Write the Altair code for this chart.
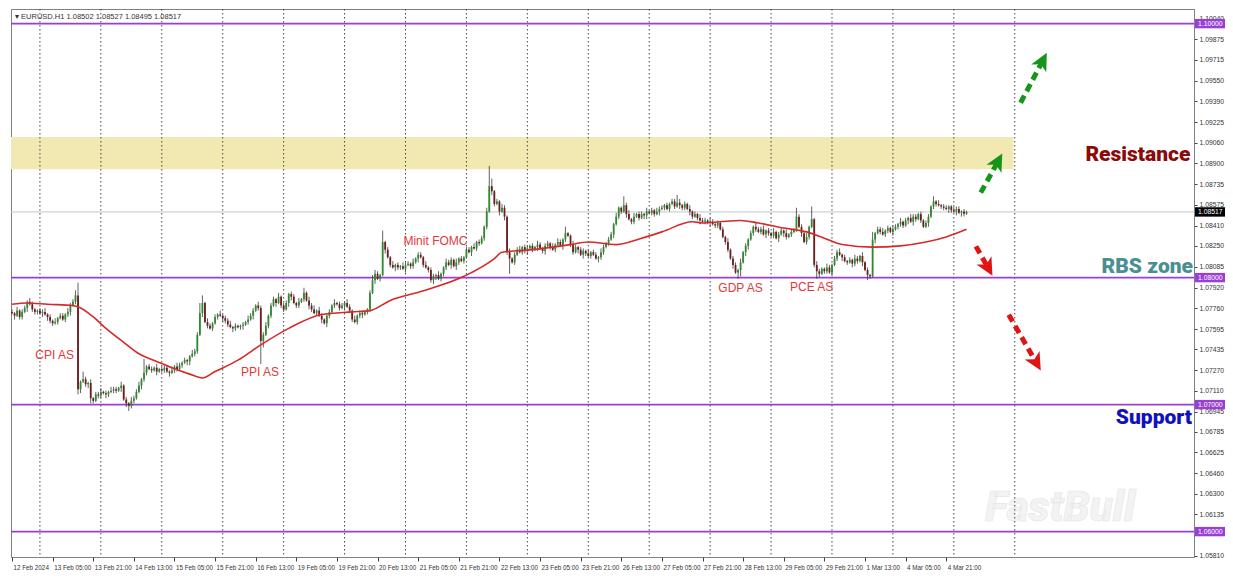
import json
import altair as alt
import pandas as pd

W, H = 1183, 548
X_DOM = [-0.4, 465.6]
Y_DOM = [1.0580, 1.10115]
BASE, PIP = 1.08, 0.0001

# hourly closes, in pips relative to 1.08000 (bar 0 = 12 Feb 13:00)
closes = [
    -28, -30, -26, -31, -27, -24, -19, -21, -25, -27, -26, -28, -27, -29, -31, -34, -36, -35, -32, -30, -33, -29, -27, -22, -19, -14,
    -88,
    -82, -80, -84, -83, -95, -97,
    -92, -93, -90, -91, -92, -90, -89, -88, -89, -87, -85,
    -96, -99, -101, -97, -95,
    -90, -85, -80, -75, -70,
    -72, -73, -71, -74, -72,
    -73, -71, -74, -75, -73, -70, -72, -69,
    -67, -65, -66, -62, -60, -58,
    -45, -28, -20,
    -35, -38, -40, -36, -31, -29, -30, -32,
    -34, -37, -39, -40, -38,
    -39, -38, -37, -35, -33, -30, -26,
    -22, -24, -50, -45, -38,
    -30, -22, -17, -20, -15, -22, -25, -20,
    -13, -15, -20, -22, -19, -17, -12,
    -18, -22, -25, -28, -26, -30, -33, -36, -30, -27, -22, -20,
    -21, -24, -22, -20, -23, -26, -33, -35,
    -30, -28, -29, -27, -25,
    -12, -2, 3, -1, 2, 28,
    22, 16, 10, 8,
    10, 8, 9, 7, 10, 11, 9,
    12, 15, 18, 16, 10, 8, 6, -2, 1, 2, -1, 3,
    8, 12, 10, 14, 9, 12, 15, 13, 16,
    22, 20, 24, 23, 28, 27, 31, 40, 52,
    72, 68, 58, 60, 52, 55, 48, 20, 15, 12,
    18, 22, 20, 24, 21,
    23, 25, 22, 24, 26, 23, 21, 25, 27, 24, 22, 26, 28, 25,
    30, 35, 33, 26, 20, 24, 22, 18,
    21, 19, 17, 20, 18, 15, 16,
    20, 24, 27, 30, 34,
    42, 48, 55, 52, 57, 50,
    46, 44, 48, 50, 47,
    50, 49, 52, 51, 53, 50, 52, 54,
    55, 57, 54, 58, 60, 56, 59, 57, 55, 58, 54, 52,
    48, 50, 47, 45,
    44, 45, 43, 44, 42, 41, 43,
    38, 32, 28, 22, 15, 10, 4,
    6, 12, 20, 25, 30, 35, 40, 38,
    36, 38, 34, 37, 35, 33, 36, 31, 34, 37, 35, 32, 34, 36, 38,
    48, 40, 35, 28, 32, 40, 46,
    10, 5, 3, 7, 5, 8, 4,
    10, 15, 20, 18,
    16, 13, 12, 14, 11, 15, 13, 17, 12,
    6, 2, 1, 30,
    35, 38, 36, 34, 37, 39, 36, 38, 40,
    42, 44, 41, 45, 47, 44, 48, 46, 50, 45, 40, 43, 48,
    56, 60, 58,
    57, 56, 55, 54, 56, 53, 52, 54, 51, 52, 50.2, 51.7,
]
FIRST_OPEN = -27

# wick lengths (pips beyond the body), read bar by bar
UP = ("2131221321" "1223121312" "2132213122" "1312231213" "2213121322"
      "3121221312" "2213132121" "1322121321" "2131223121" "1213221312"
      "3122131221" "2213121323" "1321221312" "2132131221" "1223213121"
      "3121322131" "2213122131" "1322131212" "2131221323" "1213213122"
      "3122121321" "2213132121" "1321221312" "2132122131" "1223131221"
      "3121322121" "2213121312" "1322132121" "2131221312" "1213223121"
      "3122131212" "2213121321" "1321223121" "2132131212" "1223121321"
      "3121322121" "2213131221" "1322121312")
DN = ("1312213122" "2131322121" "1223121312" "3121221321" "2213132121"
      "1322121312" "2131221213" "3122131212" "1213221321" "2312131221"
      "1221312213" "3122121321" "2131321212" "1312212231" "2213121312"
      "1322131221" "3121221312" "2213132121" "1312212213" "2131322121"
      "1223121312" "3121221321" "2213132121" "1322121312" "2131221213"
      "3122131212" "1213221321" "2312131221" "1221312213" "3122121321"
      "2131321212" "1312212231" "2213121312" "1322131221" "3121221312"
      "2213132121" "1312212213" "2131322121")
HI = {25: -10, 26: -4, 28: -74, 52: -64, 74: -20, 75: -14, 98: -22, 115: -8,
      142: 2, 146: 37, 188: 88, 189: 78, 218: 40, 241: 64, 262: 65, 309: 55,
      315: 56, 339: 36, 363: 64, 376: 52.7}
LO = {26: -92, 31: -99, 46: -105, 47: -103, 98: -68, 99: -55, 166: -5, 196: 3,
      286: -1, 287: 1, 317: -1, 337: -2, 338: -1, 376: 49.5}

# 50-period moving average, read at these bars
ma_bar = [0, 6, 14, 24, 26, 32, 37, 44, 50, 57, 63, 70, 75, 80, 89, 98, 109, 122, 134, 141,
          149, 161, 178, 190, 193, 205, 220, 227, 238, 248, 256, 268, 272, 279, 287, 294,
          304, 313, 320, 327, 339, 350, 360, 368, 376]
ma_pips = [-21, -20, -21, -22, -23, -31, -40, -51, -60, -66, -71, -76, -79, -74, -65, -53, -40, -29, -27, -26,
           -18, -11, 1, 15, 20, 22, 26, 28, 26, 31, 36, 44, 43, 44, 45, 43,
           39, 36, 31, 26, 24, 25, 28, 32, 38]

x_labels = ["12 Feb 2024", "13 Feb 05:00", "13 Feb 21:00", "14 Feb 13:00", "15 Feb 05:00",
            "15 Feb 21:00", "16 Feb 13:00", "19 Feb 05:00", "19 Feb 21:00", "20 Feb 13:00",
            "21 Feb 05:00", "21 Feb 21:00", "22 Feb 13:00", "23 Feb 05:00", "23 Feb 21:00",
            "26 Feb 13:00", "27 Feb 05:00", "27 Feb 21:00", "28 Feb 13:00", "29 Feb 05:00",
            "29 Feb 21:00", "1 Mar 13:00", "4 Mar 05:00", "4 Mar 21:00"]
x_ticks = [0, 16, 32, 48, 64, 80, 96, 112, 128, 144, 160, 176, 192, 208, 224, 240, 256,
           272, 288, 304, 320, 336, 352, 368]
day_bars = [11, 35, 59, 83, 107, 131, 155, 179, 203, 227, 251, 275, 299, 323, 347, 371, 395]
y_ticks = [1.10040, 1.09875, 1.09715, 1.09550, 1.09390, 1.09225, 1.09060, 1.08900, 1.08735,
           1.08575, 1.08410, 1.08250, 1.08085, 1.07920, 1.07760, 1.07595, 1.07435, 1.07270,
           1.07110, 1.06945, 1.06785, 1.06625, 1.06460, 1.06300, 1.06135, 1.05810]
levels = [1.10000, 1.08000, 1.07000, 1.06000]
last_price = 1.08517
band = {"x": -0.4, "x2": 394.5, "y": 1.08854, "y2": 1.09108}

notes = ["CPI AS", "PPI AS", "Minit FOMC", "GDP AS", "PCE AS"]
note_x = [16.8, 97.7, 166.8, 287.0, 315.0]
note_y = [1.07392, 1.07254, 1.08292, 1.07915, 1.07923]

zones = ["Resistance", "RBS zone", "Support"]
zone_x = [464.2, 465.2, 464.8]
zone_y = [1.08969, 1.08085, 1.06892]
zone_col = ["#8b0a0a", "#4a9090", "#1010c0"]

arrow_id = ["g1", "g1", "g2", "g2", "r1", "r1", "r2", "r2"]
arrow_x = [381.6, 388.2, 397.3, 405.8, 379.7, 384.3, 392.6, 403.3]
arrow_y = [1.08669, 1.08908, 1.09377, 1.09700, 1.08246, 1.08084, 1.07708, 1.07337]
head_x = [388.2, 405.8, 384.3, 403.3]
head_y = [1.08908, 1.09700, 1.08084, 1.07337]
head_angle = [28.3, 27.5, 151.1, 150.3]
arrow_col = {"g1": "#17951a", "g2": "#17951a", "r1": "#e01414", "r2": "#e01414"}

BULL, BEAR, WICK = "#2e8b2e", "#6e1c1c", "#3a3a3a"
PURPLE = "#9a3fd4"

# ---------- tables ----------
rows = []
prev = FIRST_OPEN
for i, c in enumerate(closes):
    o = prev
    hi = HI.get(i, max(o, c) + int(UP[i]))
    lo = LO.get(i, min(o, c) - int(DN[i]))
    hi = max(hi, o, c)
    lo = min(lo, o, c)
    c2 = c if abs(c - o) >= 0.4 else o + 0.4
    rows.append({"i": i, "open": BASE + o * PIP, "close": BASE + c * PIP,
                 "body2": BASE + c2 * PIP, "high": BASE + hi * PIP, "low": BASE + lo * PIP,
                 "dir": "up" if c >= o else "down"})
    prev = c
candles = pd.DataFrame(rows)
ma = pd.DataFrame({"i": ma_bar, "v": [BASE + p * PIP for p in ma_pips]})

xs = alt.Scale(domain=X_DOM, nice=False, zero=False)
ys = alt.Scale(domain=Y_DOM, nice=False, zero=False)

label_expr = json.dumps(x_labels) + "[round(datum.value/16)]"
x_axis = alt.Axis(values=x_ticks, labelExpr=label_expr, orient="bottom", grid=False,
                  domain=False, ticks=True, tickSize=4, tickColor="#444",
                  labelFont="Liberation Sans", labelFontSize=6.3, labelColor="#333",
                  labelAlign="left", labelPadding=3, labelOverlap=False, labelFlush=False,
                  labelBound=False, labelOffset=1, title=None)
y_axis = alt.Axis(orient="right", values=y_ticks, format=".5f", grid=False, domain=True,
                  domainColor="#808080", tickSize=3, tickColor="#444",
                  labelFont="Liberation Sans", labelFontSize=6.8, labelColor="#333",
                  labelPadding=2, labelOverlap=False, labelFlush=False, labelBound=False,
                  title=None)


def X(f, **kw):
    return alt.X(f, type="quantitative", scale=xs, axis=x_axis, **kw)


def Y(f, **kw):
    return alt.Y(f, type="quantitative", scale=ys, axis=y_axis, **kw)


band_l = alt.Chart(pd.DataFrame([band])).mark_rect(color="#f2e9b2").encode(
    x=X("x"), x2="x2", y=Y("y"), y2="y2")

wm = alt.Chart(pd.DataFrame({"t": ["FastBull"], "x": [412.9], "y": [1.06185]})).mark_text(
    font="Roboto", fontSize=42, fontWeight=900, fontStyle="italic", color="#f3f3f3",
    stroke="#e6e6e6", strokeWidth=0.6).encode(x=X("x"), y=Y("y"), text="t")

grid = alt.Chart(pd.DataFrame({"g": day_bars})).mark_rule(
    color="#333", strokeWidth=0.9, strokeDash=[1.5, 2.5]).encode(x=X("g"))

price_line = alt.Chart(pd.DataFrame({"p": [last_price]})).mark_rule(
    color="#c6c6c6", strokeWidth=1).encode(y=Y("p"))

lev = alt.Chart(pd.DataFrame({"p": levels})).mark_rule(
    color=PURPLE, strokeWidth=1.6).encode(y=Y("p"))

wicks = alt.Chart(candles).mark_rule(color=WICK, strokeWidth=0.8).encode(
    x=X("i"), y=Y("low"), y2="high")

bodies = alt.Chart(candles).mark_rule(strokeWidth=1.8).encode(
    x=X("i"), y=Y("open"), y2="body2",
    color=alt.Color("dir:N", scale=alt.Scale(domain=["up", "down"], range=[BULL, BEAR]),
                    legend=None))

ma_l = alt.Chart(ma).mark_line(color="#d42a2a", strokeWidth=1.6, interpolate="monotone").encode(
    x=X("i"), y=Y("v"))

notes_l = alt.Chart(pd.DataFrame({"t": notes, "x": note_x, "y": note_y})).mark_text(
    font="Liberation Sans", fontSize=12, color="#e03a3a").encode(x=X("x"), y=Y("y"), text="t")

arrows = pd.DataFrame({"a": arrow_id, "x": arrow_x, "y": arrow_y,
                       "c": [arrow_col[a] for a in arrow_id]})
arrow_l = alt.Chart(arrows).mark_line(strokeWidth=5, strokeDash=[8, 5], strokeCap="butt").encode(
    x=X("x"), y=Y("y"), detail="a:N", color=alt.Color("c:N", scale=None))

heads = pd.DataFrame({"x": head_x, "y": head_y, "ang": head_angle,
                      "c": ["#17951a", "#17951a", "#e01414", "#e01414"]})
head_l = alt.Chart(heads).mark_point(
    shape="M0,-1L0.85,0.75L0,0.28L-0.85,0.75Z", filled=True, size=400, opacity=1).encode(
    x=X("x"), y=Y("y"), angle=alt.Angle("ang:Q", scale=None),
    color=alt.Color("c:N", scale=None))

zones_l = alt.Chart(pd.DataFrame({"t": zones, "x": zone_x, "y": zone_y, "c": zone_col})).mark_text(
    font="Roboto", fontSize=21, fontWeight=900, align="right", baseline="middle").encode(
    x=X("x"), y=Y("y"), text="t", color=alt.Color("c:N", scale=None))

box_df = pd.DataFrame({"p": levels + [last_price],
                       "c": [PURPLE, PURPLE, PURPLE, PURPLE, "#000000"]})
box_df["lo"] = box_df["p"] - 0.00037
box_df["hi"] = box_df["p"] + 0.00037
box_df["t"] = box_df["p"].map(lambda v: f"{v:.5f}")
boxes = alt.Chart(box_df).mark_rect().encode(
    x=alt.value(W + 1), x2=alt.value(W + 31), y=Y("lo"), y2="hi",
    color=alt.Color("c:N", scale=None))
box_txt = alt.Chart(box_df).mark_text(
    font="Liberation Sans", fontSize=6.8, color="white", align="left", baseline="middle").encode(
    x=alt.value(W + 4), y=Y("p"), text="t")

header = alt.Chart(pd.DataFrame({"t": ["\u25be EURUSD.H1  1.08502 1.08527 1.08495 1.08517"]})).mark_text(
    font="Liberation Sans", fontSize=7.5, color="#333", align="left", baseline="middle").encode(
    x=alt.value(4), y=alt.value(8), text="t")

chart = alt.layer(
    band_l, wm, grid, price_line, lev, wicks, bodies, ma_l, notes_l,
    arrow_l, head_l, zones_l, boxes, box_txt, header
).properties(width=W, height=H, background="white", padding=0).configure_view(
    stroke="#808080", strokeWidth=1)

chart.save("out.html", embed_options={"renderer": "svg", "actions": False})
